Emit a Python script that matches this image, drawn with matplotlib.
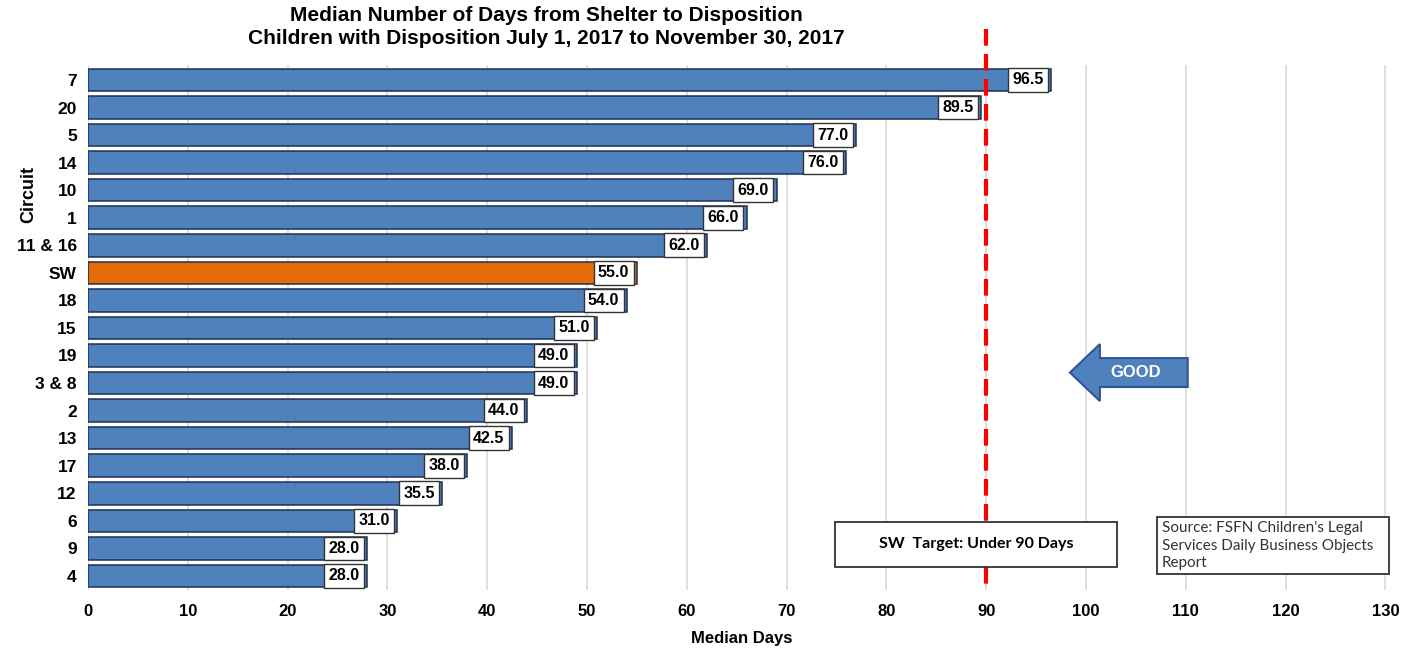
import matplotlib.pyplot as plt
from matplotlib.patches import FancyArrow, Rectangle

# Datos del gráfico
circuitos = ['7', '20', '5', '14', '10', '1', '11 & 16', 'SW', '18', '15', '19',
             '3 & 8', '2', '13', '17', '12', '6', '9', '4']
dias = [96.5, 89.5, 77.0, 76.0, 69.0, 66.0, 62.0, 55.0, 54.0, 51.0, 49.0,
        49.0, 44.0, 42.5, 38.0, 35.5, 31.0, 28.0, 28.0]
objetivo = 90
ticks_x = list(range(0, 140, 10))

plt.rcParams['font.family'] = ['Liberation Sans', 'DejaVu Sans']

fig = plt.figure(figsize=(14.18, 6.48), dpi=100)
ax = fig.add_axes([0.062, 0.09, 0.922, 0.81])

ypos = list(range(len(circuitos)))
colores = ['#E36C09' if c == 'SW' else '#4F81BD' for c in circuitos]
ax.barh(ypos, dias, height=0.82, color=colores, edgecolor='#1F3050', linewidth=1.1, zorder=3)

# Etiquetas de valor dentro de la barra
for y, v in zip(ypos, dias):
    ax.text(v - 0.75, y, f'{v:.1f}', ha='right', va='center', fontsize=11.5,
            fontweight='bold', zorder=5,
            bbox=dict(boxstyle='square,pad=0.27', fc='white', ec='#333333', lw=1))

ax.set_ylim(len(circuitos) - 0.5, -0.55)
ax.set_xlim(0, 131)
ax.set_yticks(ypos)
ax.set_yticklabels(circuitos, fontsize=12.5, fontweight='bold')
ax.set_xticks(ticks_x)
ax.set_xticklabels([str(t) for t in ticks_x], fontsize=12, fontweight='bold')
ax.tick_params(length=0, pad=8)
ax.tick_params(axis='x', pad=10)
for s in ax.spines.values():
    s.set_visible(False)
ax.grid(axis='x', color='#D9D9D9', linewidth=1.2, zorder=0)
ax.set_axisbelow(True)

ax.set_xlabel('Median Days', fontsize=12, fontweight='bold', labelpad=9)
fig.text(0.02, 0.70, 'Circuit', rotation=90, fontsize=13, fontweight='bold',
         ha='center', va='center')

# Cuadro del objetivo (posición en datos)
caja_y0, caja_h = 16.04, 1.63

# Línea objetivo, cortada por el cuadro
ax.vlines(objetivo, -1.85, caja_y0, colors='#FF0000', lw=3, linestyles=(0, (4, 2)),
          clip_on=False, zorder=4)
ax.vlines(objetivo, caja_y0 + caja_h, 18.55, colors='#FF0000', lw=3, linestyles=(0, (4, 2)),
          clip_on=False, zorder=4)

fig.suptitle('Median Number of Days from Shelter to Disposition\n'
             'Children with Disposition July 1, 2017 to November 30, 2017',
             fontsize=15, fontweight='bold', x=0.385, y=0.99, linespacing=1.25)

# Cuadros de texto
ax.add_patch(Rectangle((74.9, caja_y0), 28.2, caja_h, fc='white', ec='#333333', lw=1.3, zorder=8))
ax.text(89.0, caja_y0 + caja_h / 2, 'SW  Target: Under 90 Days', ha='center', va='center',
        fontsize=11.5, fontweight='bold', zorder=9, family=['Lato', 'DejaVu Sans'])
ax.add_patch(Rectangle((107.1, 15.85), 23.3, 2.08, fc='white', ec='#333333', lw=1.3, zorder=8))
ax.text(107.6, 16.9, "Source: FSFN Children's Legal\nServices Daily Business Objects\nReport",
        ha='left', va='center', fontsize=11, color='#333333', family=['Lato', 'DejaVu Sans'],
        linespacing=1.3, zorder=9)

# Flecha GOOD
flecha = FancyArrow(110.2, 10.62, -11.8, 0, width=1.05, head_width=2.07, head_length=3.0,
                    length_includes_head=True, fc='#4F81BD', ec='#2F5597', lw=1.5, zorder=6)
ax.add_patch(flecha)
ax.text(105.0, 10.62, 'GOOD', ha='center', va='center', fontsize=12,
        fontweight='bold', color='white', zorder=7)

fig.savefig('out.png', dpi=100)
